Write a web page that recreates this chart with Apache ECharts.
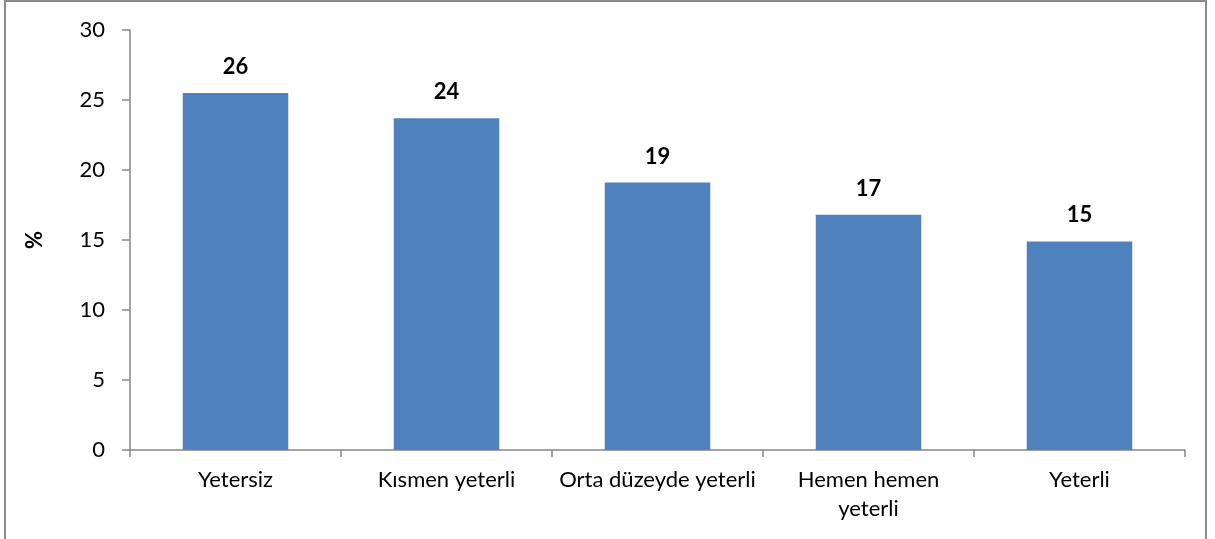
<!DOCTYPE html>
<html>
<head>
<meta charset="utf-8">
<script src="https://cdn.jsdelivr.net/npm/echarts@6/dist/echarts.min.js"></script>
<style>
  html, body { margin: 0; padding: 0; background: #fff; }
  #frame { position: absolute; left: 4px; top: 0; width: 1203px; height: 560px; border: 2px solid #8c8c8c; box-sizing: border-box; }
  #main { position: absolute; left: 0; top: 0; width: 1215px; height: 539px; }
</style>
</head>
<body>
<div id="frame"></div>
<div id="main"></div>
<script>
const categories = ['Yetersiz', 'Kısmen yeterli', 'Orta düzeyde yeterli', 'Hemen hemen\nyeterli', 'Yeterli'];
const values = [25.5, 23.7, 19.1, 16.8, 14.9];
const yTicks = [0, 5, 10, 15, 20, 25, 30];

const chart = echarts.init(document.getElementById('main'));
const axisGrey = '#868686';
const font = 'Lato, "Open Sans", sans-serif';

const option = {
    animation: false,
    backgroundColor: 'transparent',
    grid: {
        left: 130,
        right: 30,
        top: 30,
        bottom: 89
    },
    xAxis: {
        type: 'category',
        data: categories,
        axisLine: { lineStyle: { color: axisGrey, width: 1.5 } },
        axisTick: { show: true, interval: 0, length: 7, lineStyle: { color: axisGrey, width: 1.5 } },
        axisLabel: {
            interval: 0,
            hideOverlap: false,
            color: '#000',
            fontFamily: font,
            fontSize: 22,
            margin: 15,
            lineHeight: 29
        }
    },
    yAxis: {
        type: 'value',
        min: yTicks[0],
        max: yTicks[yTicks.length - 1],
        interval: 5,
        name: '%',
        nameLocation: 'middle',
        nameRotate: 90,
        nameGap: 84,
        nameTextStyle: { color: '#000', fontFamily: font, fontSize: 22, fontWeight: 'bold' },
        axisLine: { show: true, lineStyle: { color: axisGrey, width: 1.5 } },
        axisTick: { show: true, length: 8, lineStyle: { color: axisGrey, width: 1.5 } },
        splitLine: { show: false },
        axisLabel: {
            color: '#000',
            fontFamily: font,
            fontSize: 22,
            margin: 25
        }
    },
    series: [
        {
            type: 'bar',
            data: values,
            barWidth: '50%',
            itemStyle: { color: '#4f81bd' },
            label: {
                show: true,
                position: 'top',
                distance: 15,
                color: '#000',
                fontFamily: font,
                fontSize: 22,
                fontWeight: 'bold',
                formatter: (p) => Math.round(p.value)
            }
        }
    ]
};

option && chart.setOption(option);
</script>
</body>
</html>
